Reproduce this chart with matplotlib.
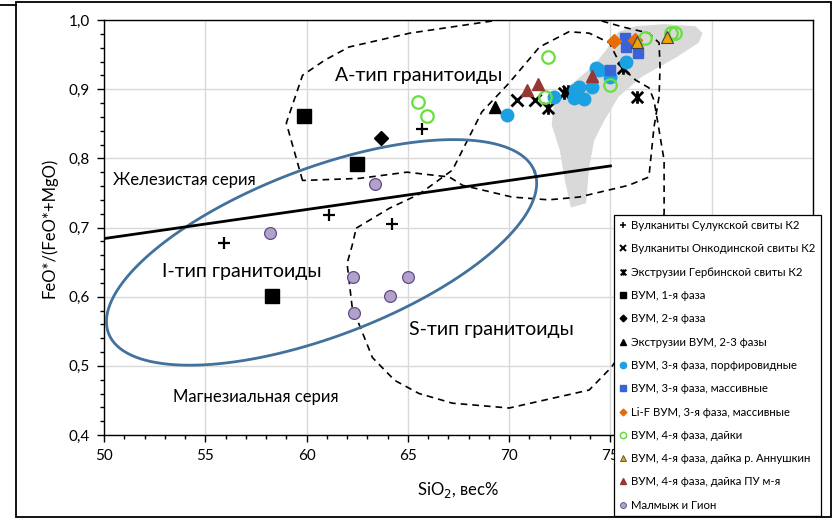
import numpy as np
import matplotlib
matplotlib.use("Agg")
import matplotlib.pyplot as plt
from matplotlib.path import Path
from matplotlib.lines import Line2D
from matplotlib.patches import Polygon, Rectangle
from matplotlib.ticker import MultipleLocator, FuncFormatter

plt.rcParams['font.family'] = ['Lato', 'DejaVu Sans']

# --- samples: SiO2 (wt%) vs FeO*/(FeO*+MgO) ---
sul_x = [55.9, 61.1, 64.2, 65.7]
sul_y = [0.677, 0.718, 0.705, 0.842]

onk_x = [70.4, 71.3]
onk_y = [0.884, 0.884]

gerb_x = [71.9, 72.7, 72.9, 75.6, 76.3]
gerb_y = [0.873, 0.894, 0.897, 0.931, 0.889]

vum1_x = [59.85, 62.5, 58.3]
vum1_y = [0.861, 0.792, 0.601]

vum2_x = [63.65]
vum2_y = [0.829]

extr_x = [69.3]
extr_y = [0.874]

porf_x = [69.9, 72.2, 73.25, 73.45, 73.2, 73.7, 74.1, 74.3, 74.45, 75.0, 75.75]
porf_y = [0.863, 0.889, 0.899, 0.903, 0.887, 0.886, 0.903, 0.930, 0.928, 0.918, 0.939]

mass_x = [75.0, 75.75, 75.7, 76.35]
mass_y = [0.928, 0.961, 0.974, 0.952]

lif_x = [75.2, 76.2]
lif_y = [0.970, 0.971]

dyke_x = [65.5, 65.95, 71.9, 71.75, 75.0, 76.7, 78.0, 78.2]
dyke_y = [0.881, 0.861, 0.946, 0.889, 0.906, 0.974, 0.981, 0.981]

ann_x = [76.3, 77.8]
ann_y = [0.968, 0.975]

pu_x = [70.9, 71.4, 74.1]
pu_y = [0.899, 0.907, 0.919]

mal_x = [58.2, 63.4, 62.3, 65.0, 64.1, 62.35]
mal_y = [0.692, 0.763, 0.628, 0.628, 0.601, 0.576]

# --- fields ---
a_field_x = [59.8, 59.0, 59.8, 60.9, 62.1, 65.1, 69.5, 74.4, 75.6, 76.9, 77.4, 77.45,
             77.4, 77.15, 77.0, 76.9, 75.9, 73.45, 71.95, 70.15, 67.7, 67.05, 64.95, 62.6]
a_field_y = [0.768, 0.851, 0.920, 0.942, 0.961, 0.981, 1.0, 1.0, 0.990, 0.981, 0.967, 0.932,
             0.889, 0.845, 0.802, 0.773, 0.761, 0.744, 0.740, 0.744, 0.761, 0.773, 0.780, 0.771]

s_field_x = [62.45, 64.1, 65.55, 67.2, 68.65, 70.0, 71.5, 72.95, 73.95, 74.95, 75.55, 76.25,
             76.9, 77.15, 77.4, 77.65, 77.65, 77.4, 76.65, 75.05, 73.95, 70.0, 67.2, 65.55,
             64.35, 63.25, 62.25, 62.0, 62.25]
s_field_y = [0.699, 0.728, 0.748, 0.783, 0.867, 0.909, 0.961, 0.983, 0.981, 0.967, 0.932, 0.913,
             0.902, 0.884, 0.841, 0.797, 0.721, 0.653, 0.566, 0.498, 0.465, 0.439, 0.446, 0.460,
             0.479, 0.512, 0.585, 0.648, 0.674]

gray_x = [75.4, 76.25, 77.65, 79.2, 79.55, 79.35, 78.25, 76.55, 75.4, 74.7, 74.2, 73.95,
          73.8, 73.05, 72.75, 72.5, 72.1, 72.2, 72.7, 73.45, 74.2, 74.8]
gray_y = [0.983, 0.991, 0.994, 0.991, 0.981, 0.967, 0.946, 0.918, 0.889, 0.855, 0.826, 0.787,
          0.735, 0.729, 0.768, 0.812, 0.848, 0.877, 0.899, 0.916, 0.935, 0.957]

# ferroan / magnesian divide
div_x = [50, 75]
div_y = [0.684, 0.789]

# I-type ellipse: centre, semi-axes (in SiO2 units on screen), tilt
ell_cx, ell_cy = 60.74, 0.664
ell_a, ell_b = 11.25, 4.15
ell_angle = 20.8

fig = plt.figure(figsize=(8.36, 5.18), dpi=100)
ax = fig.add_axes([104/836, 1 - 435/518, 709/836, 415/518])
ax.set_xlim(50, 85)
ax.set_ylim(0.4, 1.0)

ax.xaxis.set_major_locator(MultipleLocator(5))
ax.xaxis.set_minor_locator(MultipleLocator(1))
ax.yaxis.set_major_locator(MultipleLocator(0.1))
ax.yaxis.set_minor_locator(MultipleLocator(0.02))
# 80 and 85 sit under the legend box anyway
ax.xaxis.set_major_formatter(FuncFormatter(lambda v, p: f"{v:.0f}" if v <= 75 else ""))
ax.yaxis.set_major_formatter(FuncFormatter(lambda v, p: f"{v:.1f}".replace('.', ',')))
ax.tick_params(which='major', direction='out', length=5, width=1, labelsize=11, pad=5)
ax.tick_params(which='minor', direction='out', length=3, width=1)
ax.grid(True, which='major', color='#D9D9D9', lw=1)
ax.set_axisbelow(True)
for sp in ax.spines.values():
    sp.set_linewidth(1)
    sp.set_color('black')

ax.set_xlabel("SiO$_2$, вес%", fontsize=12, labelpad=12)
ax.set_ylabel("FeO*/(FeO*+MgO)", fontsize=12, labelpad=8)

# fields
ax.add_patch(Polygon(np.column_stack([gray_x, gray_y]), closed=True, fc='#D9D9D9', ec='none', zorder=1))
ax.add_patch(Polygon(np.column_stack([a_field_x, a_field_y]), closed=True, fill=False,
                     ec='black', lw=1.2, ls=(0, (4, 3)), zorder=2, clip_on=True))
ax.add_patch(Polygon(np.column_stack([s_field_x, s_field_y]), closed=True, fill=False,
                     ec='black', lw=1.2, ls=(0, (4, 3)), zorder=2))

# ellipse drawn in screen-proportional units
bb = ax.get_position()
kx = bb.width * 836 / 35
ky = bb.height * 518 / 0.6
t = np.linspace(0, 2 * np.pi, 300)
th = np.radians(ell_angle)
ex = ell_cx + ell_a * np.cos(t) * np.cos(th) - ell_b * np.sin(t) * np.sin(th)
ey = ell_cy + (ell_a * np.cos(t) * np.sin(th) + ell_b * np.sin(t) * np.cos(th)) * kx / ky
ax.plot(ex, ey, color='#41719C', lw=2, zorder=3)

ax.plot(div_x, div_y, color='black', lw=2, zorder=3)

# field labels
ax.text(65.55, 0.92, "А-тип гранитоиды", fontsize=14, ha='center', va='center')
ax.text(50.45, 0.769, "Железистая серия", fontsize=12, ha='left', va='center')
ax.text(56.8, 0.637, "I-тип гранитоиды", fontsize=14, ha='center', va='center')
ax.text(69.1, 0.553, "S-тип гранитоиды", fontsize=14, ha='center', va='center')
ax.text(57.5, 0.455, "Магнезиальная серия", fontsize=12, ha='center', va='center')

# asterisk-like marker (X with a vertical bar)
star = Path([(-1, -1), (1, 1), (-1, 1), (1, -1), (0, -1.1), (0, 1.1)],
            [Path.MOVETO, Path.LINETO, Path.MOVETO, Path.LINETO, Path.MOVETO, Path.LINETO])

styles = [
    (sul_x, sul_y, "Вулканиты Сулукской свиты К2", dict(marker='+', ms=9, mew=1.6, color='black')),
    (onk_x, onk_y, "Вулканиты Онкодинской свиты К2", dict(marker='x', ms=8.5, mew=2, color='black')),
    (gerb_x, gerb_y, "Экструзии Гербинской свиты К2", dict(marker=star, ms=9, mew=2, color='black')),
    (vum1_x, vum1_y, "ВУМ, 1-я фаза", dict(marker='s', ms=9.5, color='black', mec='black')),
    (vum2_x, vum2_y, "ВУМ, 2-я фаза", dict(marker='D', ms=6.8, color='black', mec='black')),
    (extr_x, extr_y, "Экструзии ВУМ, 2-3 фазы", dict(marker='^', ms=9, color='black', mec='black')),
    (porf_x, porf_y, "ВУМ, 3-я фаза, порфировидные", dict(marker='o', ms=9, color='#1BA1E2', mec='#1BA1E2')),
    (mass_x, mass_y, "ВУМ, 3-я фаза, массивные", dict(marker='s', ms=7.5, color='#3A62D9', mec='#3A62D9')),
    (lif_x, lif_y, "Li-F ВУМ, 3-я фаза, массивные", dict(marker='D', ms=6.8, color='#E46C0A', mec='#E46C0A')),
    (dyke_x, dyke_y, "ВУМ, 4-я фаза, дайки", dict(marker='o', ms=9, mfc='none', mec='#66E03A', mew=1.6, color='#66E03A')),
    (ann_x, ann_y, "ВУМ, 4-я фаза, дайка р. Аннушкин", dict(marker='^', ms=8, color='#EFA20A', mec='#404040', mew=0.8)),
    (pu_x, pu_y, "ВУМ, 4-я фаза, дайка ПУ м-я", dict(marker='^', ms=9, color='#953735', mec='#953735')),
    (mal_x, mal_y, "Малмыж и Гион", dict(marker='o', ms=8.5, color='#B3A2C7', mec='#5F4B8B', mew=0.9)),
]

handles = []
for xs, ys, label, st in styles:
    ax.plot(xs, ys, ls='none', zorder=4, **st)
    small = dict(st)
    small['ms'] = st['ms'] * 0.5
    if 'mew' in small:
        small['mew'] = small['mew'] * 0.7
    handles.append(Line2D([], [], ls='none', label=label, **small))

leg = fig.legend(handles=handles, loc='upper left', bbox_to_anchor=(614/836, 1 - 215/518),
                 bbox_transform=fig.transFigure, frameon=True, fancybox=False, framealpha=1,
                 edgecolor='black', fontsize=8.2, labelspacing=1.08, handlelength=0.7,
                 handletextpad=0.35, borderpad=0.45, borderaxespad=0)
leg.get_frame().set_linewidth(0.9)
leg.set_zorder(10)

# outer frame
fig.add_artist(Rectangle((16/836, 1 - 517/518), 815/836, 515/518, transform=fig.transFigure,
                         fill=False, ec='black', lw=1.3))
fig.add_artist(Line2D([0, 16/836], [1 - 5/518, 1 - 5/518], transform=fig.transFigure,
                      color='black', lw=1.3))

fig.savefig("out.png", dpi=100)
